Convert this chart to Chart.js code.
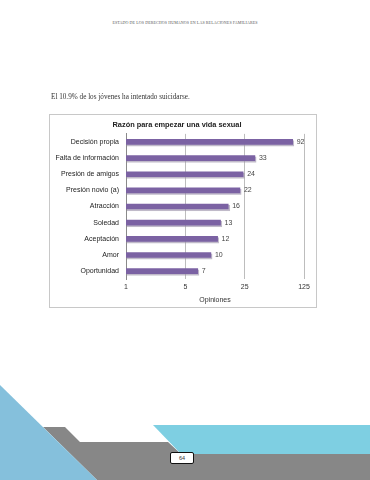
<!DOCTYPE html>
<html lang="es">
<head>
  <meta charset="UTF-8" />
  <title>Razón para empezar una vida sexual</title>
  <script src="https://cdn.jsdelivr.net/npm/chart.js"></script>
  <style>
    body {
      margin: 0;
      width: 370px;
      height: 480px;
      background: #fff;
      position: relative;
      overflow: hidden;
      font-family: 'Liberation Sans', Arial, sans-serif;
    }
    .cabecera {
      position: absolute;
      left: 0; width: 370px; top: 20px;
      text-align: center;
      font-family: 'Liberation Serif', serif;
      font-size: 4px;
      color: #555;
      letter-spacing: 0.1px;
    }
    .frase {
      position: absolute;
      left: 51px; top: 93px;
      font-family: 'Liberation Serif', serif;
      font-size: 7.2px;
      color: #333;
      transform: translateZ(0);
    }
    .caja {
      position: absolute;
      left: 49px; top: 114px;
      width: 268px; height: 194px;
      box-sizing: border-box;
      border: 1px solid #c8c8c8;
    }
    .forma { position: absolute; left: 0; top: 0; width: 370px; height: 480px; }
    .gris { background: #878787; clip-path: polygon(43px 427px, 65px 427px, 80px 442px, 168px 442px, 181px 454px, 370px 454px, 370px 480px, 97px 480px); }
    .celeste { background: #7ecfe2; clip-path: polygon(153px 425px, 370px 425px, 370px 454px, 181px 454px); }
    .azul { background: #85c0dc; clip-path: polygon(0 385px, 97px 480px, 0 480px); }
    .pagina {
      position: absolute;
      left: 170px; top: 452px;
      width: 24px; height: 12px;
      box-sizing: border-box;
      background: #fff;
      border: 1px solid #111;
      border-radius: 2px;
      font-size: 5.5px;
      line-height: 10px;
      text-align: center;
      color: #333;
    }
  </style>
</head>
<body>
  <div class="cabecera">ESTADO DE LOS DERECHOS HUMANOS EN LAS RELACIONES FAMILIARES</div>
  <div class="frase">El 10.9% de los jóvenes ha intentado suicidarse.</div>
  <div class="caja"><canvas id="grafico"></canvas></div>
  <div class="forma gris"></div>
  <div class="forma celeste"></div>
  <div class="forma azul"></div>
  <div class="pagina">64</div>

  <script>
    const categorias = ["Decisión propia", "Falta de información", "Presión de amigos", "Presión novio (a)",
      "Atracción", "Soledad", "Aceptación", "Amor", "Oportunidad"];
    const opiniones = [92, 33, 24, 22, 16, 13, 12, 10, 7];
    const marcasX = [1, 5, 25, 125];

    const morado = '#7b62a3';

    // sombra suave bajo las barras
    const sombra = {
      id: 'sombra',
      beforeDatasetsDraw(chart) {
        const ctx = chart.ctx;
        ctx.save();
        ctx.shadowColor = 'rgba(150,140,165,0.6)';
        ctx.shadowOffsetX = 1;
        ctx.shadowOffsetY = 1.5;
        ctx.shadowBlur = 0.5;
      },
      afterDatasetsDraw(chart) {
        chart.ctx.restore();
      }
    };

    // valores al final de cada barra
    const etiquetas = {
      id: 'etiquetas',
      afterDraw(chart) {
        const ctx = chart.ctx;
        ctx.save();
        ctx.font = "7px 'Liberation Sans', Arial, sans-serif";
        ctx.fillStyle = '#444';
        ctx.textAlign = 'left';
        ctx.textBaseline = 'middle';
        chart.getDatasetMeta(0).data.forEach((bar, i) => {
          ctx.fillText(String(opiniones[i]), bar.x + 4, bar.y);
        });
        ctx.restore();
      }
    };

    new Chart(document.getElementById("grafico"), {
      type: "bar",
      data: {
        labels: categorias,
        datasets: [{
          data: opiniones,
          backgroundColor: morado,
          barThickness: 5,
          borderSkipped: false,
        }],
      },
      options: {
        indexAxis: 'y',
        responsive: true,
        maintainAspectRatio: false,
        animation: false,
        layout: { padding: { left: 0, right: 12, top: 0, bottom: 3 } },
        plugins: {
          legend: { display: false },
          tooltip: { enabled: false },
          title: {
            display: true,
            text: "Razón para empezar una vida sexual",
            color: '#222',
            font: { family: "'Liberation Sans', Arial, sans-serif", size: 7.4, weight: 'bold' },
            padding: { top: 6, bottom: 4 },
          },
        },
        scales: {
          x: {
            type: 'logarithmic',
            min: 1,
            max: 125,
            afterBuildTicks(axis) {
              axis.ticks = marcasX.map(v => ({ value: v }));
            },
            ticks: {
              color: '#333',
              padding: 4,
              font: { family: "'Liberation Sans', Arial, sans-serif", size: 7 },
              callback: (v) => String(v),
            },
            grid: { color: '#bdbdbd', drawTicks: false },
            border: { display: false },
            title: {
              display: true,
              text: 'Opiniones',
              color: '#333',
              font: { family: "'Liberation Sans', Arial, sans-serif", size: 7 },
              padding: { top: 0, bottom: 0 },
            },
          },
          y: {
            afterFit(axis) { axis.width = 76; },
            ticks: {
              color: '#222',
              padding: 7,
              font: { family: "'Liberation Sans', Arial, sans-serif", size: 7 },
            },
            grid: { display: false, drawTicks: false },
            border: { display: true, color: '#8a8a8a' },
          },
        },
      },
      plugins: [sombra, etiquetas],
    });
  </script>
</body>
</html>
